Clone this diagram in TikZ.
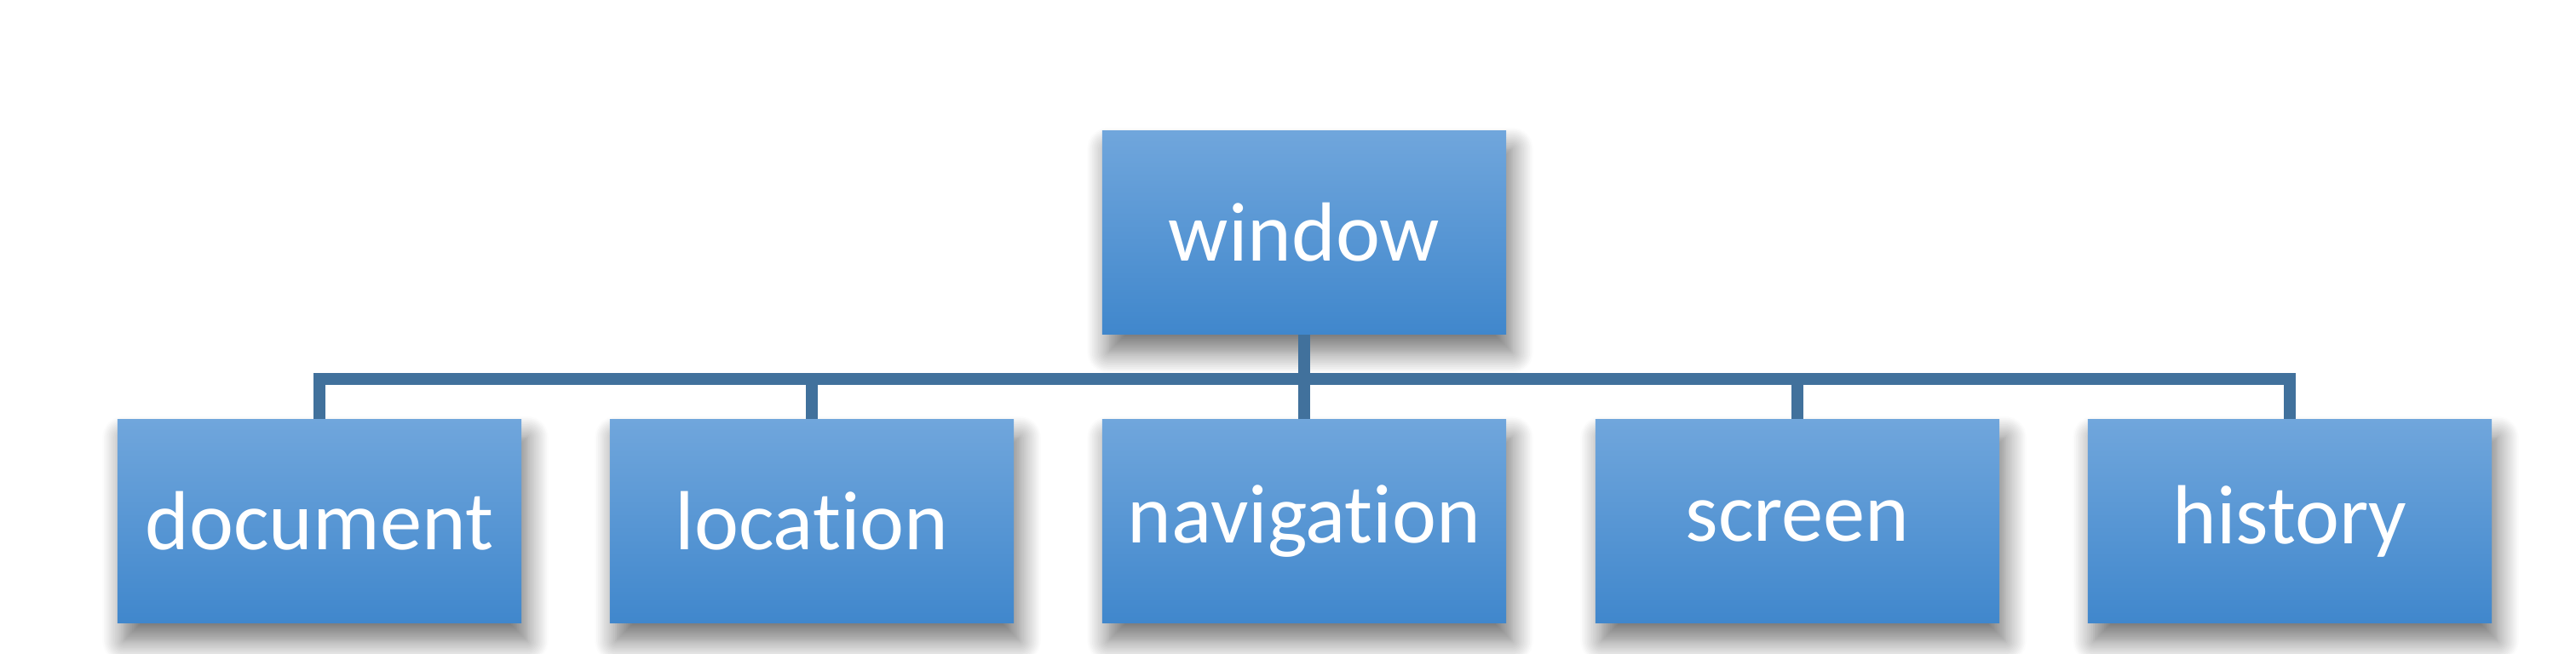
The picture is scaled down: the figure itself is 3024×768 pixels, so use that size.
\documentclass[tikz,border=0pt]{standalone}
\usepackage{fontspec}
\setmainfont{Carlito}[Ligatures={NoCommon,NoRare}]
\usetikzlibrary{shadows.blur}
\definecolor{boxtop}{RGB}{112,166,220}
\definecolor{boxbot}{RGB}{64,135,204}
\definecolor{linkcol}{RGB}{65,113,156}
\tikzset{
  orgbox/.style={rectangle, minimum width=4.74cm, minimum height=2.39cm, inner sep=0pt,
    top color=boxtop, bottom color=boxbot, draw=none, text=white,
    font=\fontsize{28}{32}\selectfont,
    blur shadow={shadow xshift=2pt, shadow yshift=-6pt, shadow blur steps=14, shadow opacity=55, shadow blur radius=7pt}},
  link/.style={draw=linkcol, line width=4pt, line join=miter}
}
\begin{document}
\begin{tikzpicture}[x=0.01cm,y=-0.01cm]
\useasboundingbox (0,0) rectangle (3024,768);
\node[orgbox] (win) at (1531,273) {window};
\node[orgbox] (doc) at (375,612) {document};
\node[orgbox] (loc) at (953,612) {location};
\node[orgbox] (nav) at (1531,612) {navigation};
\node[orgbox] (scr) at (2110,612) {screen};
\node[orgbox] (his) at (2688,612) {history};
\coordinate (bus) at (1531,445);
\foreach \c in {doc,loc,nav,scr,his}{
  \draw[link] (win.south) -- (bus) -| (\c.north);
}
\end{tikzpicture}
\end{document}
